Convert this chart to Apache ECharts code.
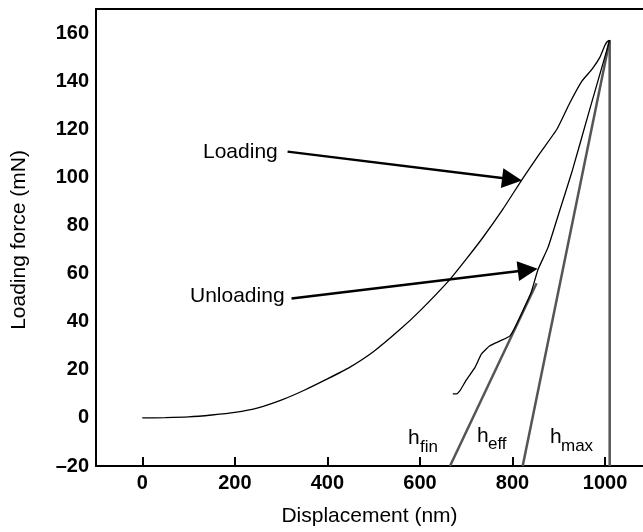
<!DOCTYPE html>
<html>
<head>
<meta charset="utf-8">
<script src="https://cdn.jsdelivr.net/npm/echarts@6/dist/echarts.min.js"></script>
<style>html,body{margin:0;padding:0;background:#fff}#c{width:643px;height:532px}</style>
</head>
<body>
<div id="c"></div>
<script>
// ---- data (displacement nm, force mN) ----
const xTicks = [0, 200, 400, 600, 800, 1000];
const yTicks = [-20, 0, 20, 40, 60, 80, 100, 120, 140, 160];
const loading = [[0,0],[50,0.1],[100,0.4],[150,1.2],[200,2.3],[250,4.2],[303,7.6],[350,11.5],[400,16.2],[448,21],[500,27.6],[556,36.6],[600,44.5],[664,57.4],[700,66],[736,75],[780,87],[823,99.8],[859,110],[896,120],[924,131],[950,140],[972,145],[989,150],[1000,155],[1005,156.5],[1010,157]];
const unloading = [[1010,157],[965,127],[928,102],[900,85],[877,71],[855,61.6],[840,52],[820,43.5],[805,37.5],[794,34],[773,32],[751,30],[733,26.6],[719,21],[700,15.7],[686,11.2],[679,10],[671,10]];
const hMaxLine = [[822,-20],[1010,157]];
const hEffLine = [[665,-20],[852,56]];
const verticalLine = [[1010,-20],[1010,157]];
const arrows = [
  {name:'Loading', from:[314,110.7], to:[799,99.2]},
  {name:'Unloading', from:[322.5,49.6], to:[833,61.5]}
];

const FONT = 'Liberation Sans, Arial, Helvetica, sans-serif';
const chart = echarts.init(document.getElementById('c'), null, {renderer:'canvas'});
const gray = '#555';

chart.setOption({
  animation: false,
  backgroundColor: '#fff',
  grid: {left: 96, top: 9, right: 0, bottom: 63, containLabel: false},
  xAxis: [{
    type: 'value', min: -100, max: 1082, position: 'bottom',
    name: 'Displacement (nm)', nameLocation: 'middle', nameGap: 40,
    nameTextStyle: {fontFamily: FONT, fontSize: 21, color: '#000'},
    axisLine: {show: true, onZero: false, lineStyle: {color: '#000', width: 2}},
    axisTick: {show: true, inside: true, length: 9, lineStyle: {color: '#000', width: 2}, customValues: xTicks},
    axisLabel: {fontFamily: FONT, fontSize: 20, fontWeight: 'bold', color: '#000', margin: 7,
      customValues: xTicks, formatter: v => String(v)},
    splitLine: {show: false}
  }, {
    type: 'value', min: -100, max: 1082, position: 'top',
    axisLine: {show: true, onZero: false, lineStyle: {color: '#000', width: 2}},
    axisTick: {show: false}, axisLabel: {show: false}, splitLine: {show: false}
  }],
  yAxis: {
    type: 'value', min: -20, max: 170,
    axisLine: {show: true, onZero: false, lineStyle: {color: '#000', width: 2}},
    axisTick: {show: false},
    axisLabel: {fontFamily: FONT, fontSize: 20, fontWeight: 'bold', color: '#000', margin: 7,
      customValues: yTicks, formatter: v => String(v).replace('-', '\u2013')},
    splitLine: {show: false}
  },
  series: [
    {type:'line', data: verticalLine, showSymbol:false, lineStyle:{color:gray, width:2.5}, z:2},
    {type:'line', data: hMaxLine, showSymbol:false, lineStyle:{color:gray, width:2.5}, z:2},
    {type:'line', data: hEffLine, showSymbol:false, lineStyle:{color:gray, width:2.5}, z:2},
    {type:'line', data: loading, showSymbol:false, smooth:0.15, lineStyle:{color:'#000', width:1.3}, z:3},
    {type:'line', data: unloading, showSymbol:false, smooth:0.15, lineStyle:{color:'#000', width:1.3}, z:3},
    {type:'lines', coordinateSystem:'cartesian2d', z:4,
      symbol:['none','triangle'], symbolSize:[15,20],
      lineStyle:{color:'#000', width:2.5, opacity:1, curveness:0},
      data: arrows.map(a => ({coords:[a.from, a.to]}))}
  ],
  graphic: [
    {type:'text', x:19.4, y:240, rotation:Math.PI/2, style:{text:'Loading force (mN)', font:'21px '+FONT, fill:'#000', align:'center', verticalAlign:'middle'}},
    {type:'text', x:203, y:152.7, style:{text:'Loading', font:'21px '+FONT, fill:'#000', align:'left', verticalAlign:'middle'}},
    {type:'text', x:190, y:296.7, style:{text:'Unloading', font:'21px '+FONT, fill:'#000', align:'left', verticalAlign:'middle'}},
    {type:'text', x:408, y:438.7, style:{text:'h', font:'21px '+FONT, fill:'#000', align:'left', verticalAlign:'middle'}},
    {type:'text', x:420, y:447.1, style:{text:'fin', font:'17px '+FONT, fill:'#000', align:'left', verticalAlign:'middle'}},
    {type:'text', x:477, y:436.7, style:{text:'h', font:'21px '+FONT, fill:'#000', align:'left', verticalAlign:'middle'}},
    {type:'text', x:488, y:444.1, style:{text:'eff', font:'17px '+FONT, fill:'#000', align:'left', verticalAlign:'middle'}},
    {type:'text', x:550, y:437.7, style:{text:'h', font:'21px '+FONT, fill:'#000', align:'left', verticalAlign:'middle'}},
    {type:'text', x:561, y:446.1, style:{text:'max', font:'17px '+FONT, fill:'#000', align:'left', verticalAlign:'middle'}}
  ]
});
</script>
</body>
</html>
